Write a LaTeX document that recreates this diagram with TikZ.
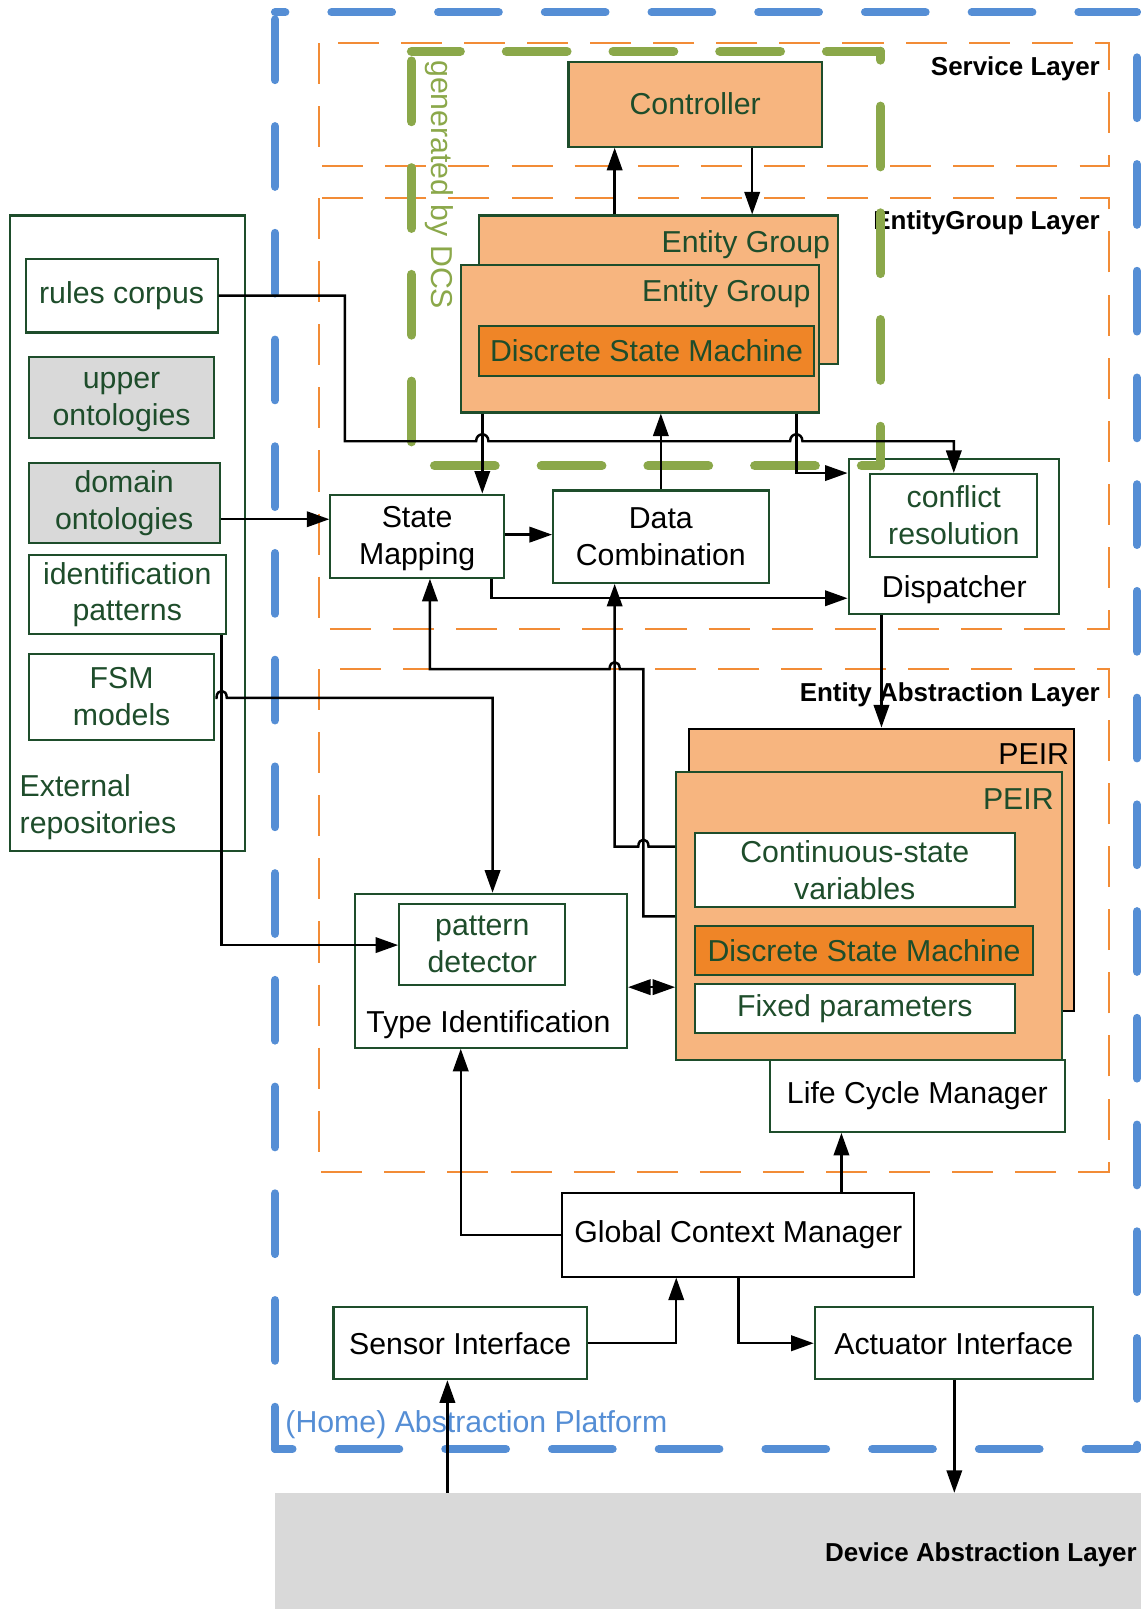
\documentclass[tikz,border=0pt]{standalone}
\usepackage{fontspec}
\setmainfont{Liberation Sans}
\usetikzlibrary{arrows.meta}

\definecolor{dkgreen}{HTML}{1E4D2B}
\definecolor{lorange}{HTML}{F7B57F}
\definecolor{dorange}{HTML}{EF8527}
\definecolor{layerorange}{HTML}{F28C36}
\definecolor{platblue}{HTML}{558ED5}
\definecolor{dcsgreen}{HTML}{8BA84A}
\definecolor{devgray}{HTML}{D9D9D9}

\newcommand\bodysz{\fontsize{29.5}{36}\selectfont}
\newcommand\layersz{\bfseries\fontsize{25.3}{30}\selectfont}

\tikzset{
  box/.style={draw=dkgreen, line width=2pt, fill=white, inner sep=0pt,
    align=center, font=\bodysz, text=black},
  lbl/.style={inner sep=0pt, font=\bodysz, text=black},
  layerlbl/.style={inner sep=0pt, font=\layersz, text=black, anchor=base east},
  layer/.style={draw=layerorange, line width=2pt, dash pattern=on 40pt off 21.5pt},
  plat/.style={draw=platblue, line width=8pt, line cap=round, dash pattern=on 59pt off 45pt},
  dcs/.style={draw=dcsgreen, line width=9pt, line cap=round, dash pattern=on 59pt off 45pt},
  arr/.style={draw=black, line width=2.4pt, -{Triangle[length=22pt,width=15pt]}},
  dblarr/.style={draw=black, line width=2.4pt,
    {Triangle[length=22pt,width=15pt]}-{Triangle[length=22pt,width=15pt]}},
}

\begin{document}
\begin{tikzpicture}[x=1pt, y=-1pt]
\useasboundingbox (0,0) rectangle (1111,1568);

% device layer band
\node[fill=devgray, inner sep=0pt, minimum width=860pt, minimum height=125pt] (dal) at (698,1517.5) {};
\node[layerlbl] (dallbl) at (1108,1522) {Device Abstraction Layer};

% platform frame, one side at a time
\draw[plat, dash phase=18pt] (268,1412) -- (268,12);
\draw[plat, dash phase=49pt] (268,12) -- (1108,12);
\draw[plat, dash phase=60pt] (1108,12) -- (1108,1412);
\draw[plat, dash phase=42pt] (268,1412) -- (1108,1412);
\node[lbl, text=platblue, anchor=base west] (platlbl) at (278,1396) {(Home) Abstraction Platform};

% layers
\draw[layer] (311,42) rectangle (1081,162);
\draw[layer] (311,193) rectangle (1081,613);
\draw[layer] (311,652) rectangle (1081,1142);
\node[layerlbl] (svclbl) at (1072,74) {Service Layer};
\node[layerlbl] (eglbl) at (1072,224) {EntityGroup Layer};
\node[layerlbl] (ealbl) at (1072,684) {Entity Abstraction Layer};

% service layer
\node[box, fill=lorange, text=dkgreen, minimum width=247pt, minimum height=83pt] (ctrl) at (677.5,101.5) {Controller};

% entity groups
\node[box, fill=lorange, minimum width=350pt, minimum height=145pt] (eg1) at (642,282.5) {};
\node[lbl, text=dkgreen, anchor=base east] (eg1lbl) at (809,246) {Entity Group};
\node[box, fill=lorange, minimum width=349pt, minimum height=144pt] (eg2) at (623.5,330) {};
\node[lbl, text=dkgreen, anchor=base east] (eg2lbl) at (790,294) {Entity Group};
\node[box, fill=dorange, text=dkgreen, minimum width=326pt, minimum height=48pt] (dsm1) at (630,342) {Discrete State Machine};

% external repositories
\node[box, minimum width=229pt, minimum height=619pt] (ext) at (124.5,519.5) {};
\node[lbl, text=dkgreen, align=left, anchor=west] (extlbl) at (19,787) {External\\repositories};
\node[box, text=dkgreen, minimum width=187pt, minimum height=72pt] (rules) at (118.5,288) {rules corpus};
\node[box, fill=devgray, text=dkgreen, minimum width=181pt, minimum height=79pt] (upper) at (118.5,387.5) {\strut upper\\ontologies};
\node[box, fill=devgray, text=dkgreen, minimum width=186pt, minimum height=78pt] (domain) at (121,490) {domain\\ontologies};
\node[box, text=dkgreen, minimum width=192pt, minimum height=77pt] (idpat) at (124,579.5) {identification\\patterns};
\node[box, text=dkgreen, minimum width=181pt, minimum height=84pt] (fsm) at (118.5,679) {FSM\\models};

% entity group layer blocks
\node[box, minimum width=169pt, minimum height=81pt] (sm) at (406.5,522.5) {\strut State\\Mapping};
\node[box, minimum width=210pt, minimum height=90pt] (dc) at (644,523) {Data\\Combination};
\node[box, minimum width=205pt, minimum height=151pt] (disp) at (929.5,522.5) {};
\node[box, text=dkgreen, minimum width=163pt, minimum height=81pt] (conf) at (929.5,502.5) {conflict\\resolution};
\node[lbl, anchor=base] (displbl) at (930,582) {Dispatcher};

% PEIRs
\node[box, draw=black, fill=lorange, minimum width=376pt, minimum height=275pt] (peirb) at (859,847.5) {};
\node[lbl, anchor=base east] (peirblbl) at (1042,745) {PEIR};
\node[box, fill=lorange, minimum width=376pt, minimum height=281pt] (peirf) at (847,892.5) {};
\node[lbl, text=dkgreen, anchor=base east] (peirflbl) at (1027,789) {PEIR};
\node[box, text=dkgreen, minimum width=312pt, minimum height=72pt] (csv) at (833,848) {Continuous-state\\variables};
\node[box, fill=dorange, text=dkgreen, minimum width=330pt, minimum height=48pt] (dsm2) at (842,926) {Discrete State Machine};
\node[box, text=dkgreen, minimum width=312pt, minimum height=48pt] (fixp) at (833,983) {Fixed parameters};
\node[box, minimum width=288pt, minimum height=70pt] (lcm) at (894,1068) {Life Cycle Manager};

% type identification
\node[box, minimum width=265pt, minimum height=150pt] (ti) at (478.5,946) {};
\node[box, text=dkgreen, minimum width=162pt, minimum height=79pt] (pd) at (470,920.5) {pattern\\detector};
\node[lbl, anchor=base] (tilbl) at (476,1006) {Type Identification};

% context and interfaces
\node[box, draw=black, minimum width=343pt, minimum height=81pt] (gcm) at (719.5,1203.5) {Global Context Manager};
\node[box, minimum width=247pt, minimum height=70pt] (si) at (448.5,1309) {Sensor Interface};
\node[box, minimum width=271pt, minimum height=70pt] (ac) at (929.5,1309) {Actuator Interface};

% generated-by-DCS frame
\draw[dcs, dash phase=11.5pt] (401,50) -- (858,50);
\draw[dcs, dash phase=94.5pt] (401,50) -- (401,454);
\draw[dcs, dash phase=81.5pt] (401,454) -- (858,454);
\draw[dcs, dash phase=50.5pt] (858,50) -- (858,454);
\node[lbl, text=dcsgreen, rotate=-90] (dcslbl) at (428,180) {generated by DCS};

% connectors
\draw[arr] (eg1.north -| 599,0) -- (ctrl.south -| 599,0);
\draw[arr] (ctrl.south -| 733,0) -- (eg1.north -| 733,0);
\draw[arr] (rules.east) -- (336,288) -- (336,430) -- (464,430)
  .. controls (464,421) and (476,421) .. (476,430) -- (770,430)
  .. controls (770,421) and (782,421) .. (782,430) -| (conf.north);
\draw[arr] (eg2.south -| 470,0) -- (sm.north -| 470,0);
\draw[arr] (dc.north -| 644,0) -- (eg2.south -| 644,0);
\draw[arr] (eg2.south -| 776,0) |- (disp.west |- 0,461);
\draw[arr] (domain.east |- 0,506) -- (sm.west |- 0,506);
\draw[arr] (sm.east |- 0,521) -- (dc.west |- 0,521);
\draw[arr] (sm.south -| 479,0) |- (disp.west |- 0,583);
\draw[arr] (disp.south -| 859,0) -- (peirb.north -| 859,0);
\draw[arr] (peirf.west |- 0,825) -- (632,825)
  .. controls (632,816) and (622,816) .. (622,825) -- (599,825) -- (dc.south -| 599,0);
\draw[arr] (peirf.west |- 0,893) -- (627,893) -- (627,652) -- (604,652)
  .. controls (604,643) and (594,643) .. (594,652) -- (419,652) -- (sm.south -| 419,0);
\draw[arr] (fsm.east |- 0,680) -- (211,680)
  .. controls (211,671) and (221,671) .. (221,680) -- (480,680) -- (ti.north -| 480,0);
\draw[arr] (idpat.south -| 216,0) |- (pd.west |- 0,921);
\draw[dblarr] (ti.east |- 0,962) -- (peirf.west |- 0,962);
\draw[arr] (gcm.west) -| (ti.south -| 449,0);
\draw[arr] (gcm.north -| 820,0) -- (lcm.south -| 820,0);
\draw[arr] (si.east) -| (gcm.south -| 659,0);
\draw[arr] (gcm.south) |- (ac.west);
\draw[arr] (dal.north -| 436,0) -- (si.south -| 436,0);
\draw[arr] (ac.south -| 930,0) -- (dal.north -| 930,0);
\end{tikzpicture}
\end{document}
